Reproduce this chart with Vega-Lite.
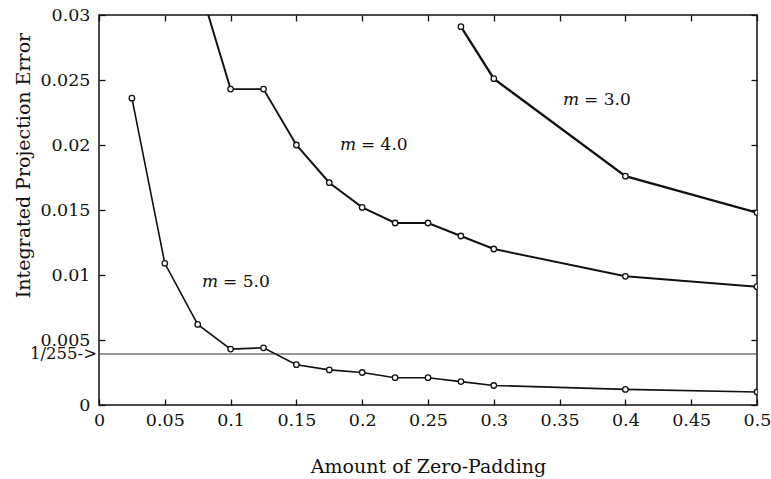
{
  "$schema": "https://vega.github.io/schema/vega-lite/v6.json",
  "width": 658,
  "height": 390,
  "autosize": {"type": "none"},
  "padding": {"left": 99, "top": 15, "right": 14, "bottom": 74},
  "background": "white",
  "config": {
    "view": {"stroke": "#111", "strokeWidth": 1.5},
    "font": "DejaVu Serif",
    "axis": {
      "grid": false,
      "domain": false,
      "ticks": true,
      "tickColor": "#111",
      "tickSize": -6,
      "tickWidth": 1.3,
      "labelFont": "DejaVu Serif",
      "labelFontSize": 17.5,
      "labelColor": "#111",
      "titleFont": "DejaVu Serif",
      "titleFontSize": 19,
      "titleFontWeight": "normal",
      "titleColor": "#111"
    }
  },
  "datasets": {
    "curves": [
      {"m": "5.0", "x": 0.025, "y": 0.0236},
      {"m": "5.0", "x": 0.05, "y": 0.0109},
      {"m": "5.0", "x": 0.075, "y": 0.0062},
      {"m": "5.0", "x": 0.1, "y": 0.0043},
      {"m": "5.0", "x": 0.125, "y": 0.0044},
      {"m": "5.0", "x": 0.15, "y": 0.0031},
      {"m": "5.0", "x": 0.175, "y": 0.0027},
      {"m": "5.0", "x": 0.2, "y": 0.0025},
      {"m": "5.0", "x": 0.225, "y": 0.0021},
      {"m": "5.0", "x": 0.25, "y": 0.0021},
      {"m": "5.0", "x": 0.275, "y": 0.0018},
      {"m": "5.0", "x": 0.3, "y": 0.0015},
      {"m": "5.0", "x": 0.4, "y": 0.0012},
      {"m": "5.0", "x": 0.5, "y": 0.0010},
      {"m": "4.0", "x": 0.075, "y": 0.0327},
      {"m": "4.0", "x": 0.1, "y": 0.0243},
      {"m": "4.0", "x": 0.125, "y": 0.0243},
      {"m": "4.0", "x": 0.15, "y": 0.0200},
      {"m": "4.0", "x": 0.175, "y": 0.0171},
      {"m": "4.0", "x": 0.2, "y": 0.0152},
      {"m": "4.0", "x": 0.225, "y": 0.0140},
      {"m": "4.0", "x": 0.25, "y": 0.0140},
      {"m": "4.0", "x": 0.275, "y": 0.0130},
      {"m": "4.0", "x": 0.3, "y": 0.0120},
      {"m": "4.0", "x": 0.4, "y": 0.0099},
      {"m": "4.0", "x": 0.5, "y": 0.0091},
      {"m": "3.0", "x": 0.275, "y": 0.0291},
      {"m": "3.0", "x": 0.3, "y": 0.0251},
      {"m": "3.0", "x": 0.4, "y": 0.0176},
      {"m": "3.0", "x": 0.5, "y": 0.0148}
    ],
    "labels": [
      {"sym": "m", "rest": "= 3.0", "x": 0.3526, "y": 0.0235},
      {"sym": "m", "rest": "= 4.0", "x": 0.1831, "y": 0.0200},
      {"sym": "m", "rest": "= 5.0", "x": 0.0783, "y": 0.0095}
    ],
    "ref": [
      {"level": 0.0039216, "x": 0, "label": "1/255->"}
    ]
  },
  "layer": [
    {
      "data": {"name": "curves"},
      "mark": {"type": "line", "color": "#111", "clip": true},
      "encoding": {
        "x": {
          "field": "x", "type": "quantitative",
          "scale": {"domain": [0, 0.5], "nice": false},
          "axis": {"orient": "bottom", "values": [0, 0.05, 0.1, 0.15, 0.2, 0.25, 0.3, 0.35, 0.4, 0.45, 0.5], "format": "~g", "labelPadding": 12, "labelFlush": false, "title": "Amount of Zero-Padding", "titleBaseline": "alphabetic", "titleY": 67}
        },
        "y": {
          "field": "y", "type": "quantitative",
          "scale": {"domain": [0, 0.03], "nice": false},
          "axis": {"orient": "left", "values": [0, 0.005, 0.01, 0.015, 0.02, 0.025, 0.03], "format": "~g", "labelPadding": 15, "labelFlush": false, "title": "Integrated Projection Error", "titleBaseline": "alphabetic", "titleX": -70, "titleY": 150, "titleAngle": -90}
        },
        "detail": {"field": "m"},
        "strokeWidth": {"field": "m", "type": "nominal", "scale": {"domain": ["3.0", "4.0", "5.0"], "range": [2.3, 1.6, 2.5]}, "legend": null}
      }
    },
    {
      "data": {"name": "labels"},
      "mark": {"type": "text", "align": "left", "baseline": "middle", "fontSize": 17, "fontStyle": "italic", "color": "#111", "font": "DejaVu Serif"},
      "encoding": {
        "x": {"field": "x", "type": "quantitative", "axis": {"orient": "top", "labels": false, "title": null, "values": [0, 0.05, 0.1, 0.15, 0.2, 0.25, 0.3, 0.35, 0.4, 0.45, 0.5]}},
        "y": {"field": "y", "type": "quantitative", "axis": {"orient": "right", "labels": false, "title": null, "values": [0, 0.005, 0.01, 0.015, 0.02, 0.025, 0.03]}},
        "text": {"field": "sym"}
      }
    },
    {
      "data": {"name": "ref"},
      "mark": {"type": "rule", "color": "#333", "strokeWidth": 1.1},
      "encoding": {
        "y": {"field": "level", "type": "quantitative", "axis": null}
      }
    },
    {
      "data": {"name": "ref"},
      "mark": {"type": "text", "align": "right", "baseline": "middle", "dx": -2, "fontSize": 16.5, "color": "#111", "font": "DejaVu Serif"},
      "encoding": {
        "x": {"field": "x", "type": "quantitative", "axis": null},
        "y": {"field": "level", "type": "quantitative", "axis": null},
        "text": {"field": "label"}
      }
    },
    {
      "data": {"name": "curves"},
      "mark": {"type": "point", "shape": "circle", "filled": true, "fill": "white", "stroke": "#111", "strokeWidth": 1.3, "size": 30, "clip": true, "opacity": 1},
      "encoding": {
        "x": {"field": "x", "type": "quantitative", "axis": null},
        "y": {"field": "y", "type": "quantitative", "axis": null}
      }
    },
    {
      "data": {"name": "labels"},
      "mark": {"type": "text", "align": "left", "baseline": "middle", "dx": 21, "fontSize": 17, "color": "#111", "font": "DejaVu Serif"},
      "encoding": {
        "x": {"field": "x", "type": "quantitative", "axis": null},
        "y": {"field": "y", "type": "quantitative", "axis": null},
        "text": {"field": "rest"}
      }
    }
  ]
}
